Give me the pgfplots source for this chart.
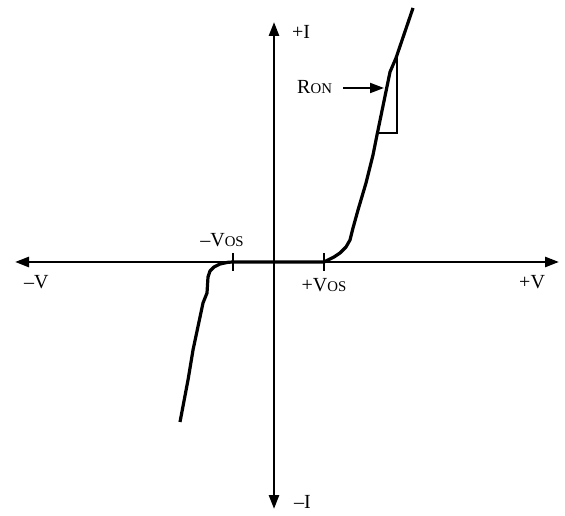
\documentclass[border=0pt]{standalone}
\usepackage{fontspec}
\setmainfont{Liberation Serif}
\usepackage{pgfplots}
\pgfplotsset{compat=1.18}
\usetikzlibrary{arrows.meta}
\newcommand{\sm}[1]{{\fontsize{7.4}{8}\selectfont #1}}
\begin{document}
\begin{tikzpicture}
\begin{axis}[hide axis, scale only axis, width=282.5pt, height=256pt,
  xmin=-274, xmax=291, ymin=-250, ymax=262, clip=false,
  every node/.style={font=\fontsize{9.5}{11}\selectfont, inner sep=0pt}]
\path (axis cs:-274,-250) rectangle (axis cs:291,262);
% axes
\addplot[black, line width=1.35pt, {Triangle[length=7pt,width=5pt]}-{Triangle[length=7pt,width=5pt]}]
  coordinates {(-259,0) (285,0)};
\addplot[black, line width=1.35pt, {Triangle[length=7pt,width=5pt]}-{Triangle[length=7pt,width=5pt]}]
  coordinates {(0,240) (0,-247)};
% ticks
\addplot[black, line width=1pt] coordinates {(-41,9) (-41,-9)};
\addplot[black, line width=1pt] coordinates {(50,9) (50,-9)};
% I-V curve
\addplot[black, line width=1.6pt, line join=round] coordinates {
  (-94,-160) (-86,-118) (-81,-88) (-71,-41) (-67,-31) (-66,-15) (-64,-9)
  (-60,-5) (-54,-2) (-46,-0.3) (-41,0) (50,0) (60,5) (66,9) (72,15) (76,22) (79,34)
  (84,52) (92,79) (99,107) (103,127) (116,190) (122,204) (139,254)};
% R_ON triangle
\addplot[black, line width=1pt] coordinates {(105,129) (123,129) (123,204)};
% R_ON arrow
\addplot[black, line width=1pt, -{Triangle[length=7pt,width=5pt]}] coordinates {(69,174) (110,174)};
% labels
\node[anchor=east] at (axis cs:65,175) {R\sm{ON}};
\node[anchor=west] at (axis cs:11,230) {+I};
\node[anchor=west] at (axis cs:13,-240) {\textendash I};
\node[anchor=west] at (axis cs:-257,-20) {\textendash V};
\node[anchor=east] at (axis cs:278,-20) {+V};
\node at (axis cs:-52,22) {\textendash V\sm{OS}};
\node at (axis cs:50,-23) {+V\sm{OS}};
\end{axis}
\end{tikzpicture}
\end{document}
